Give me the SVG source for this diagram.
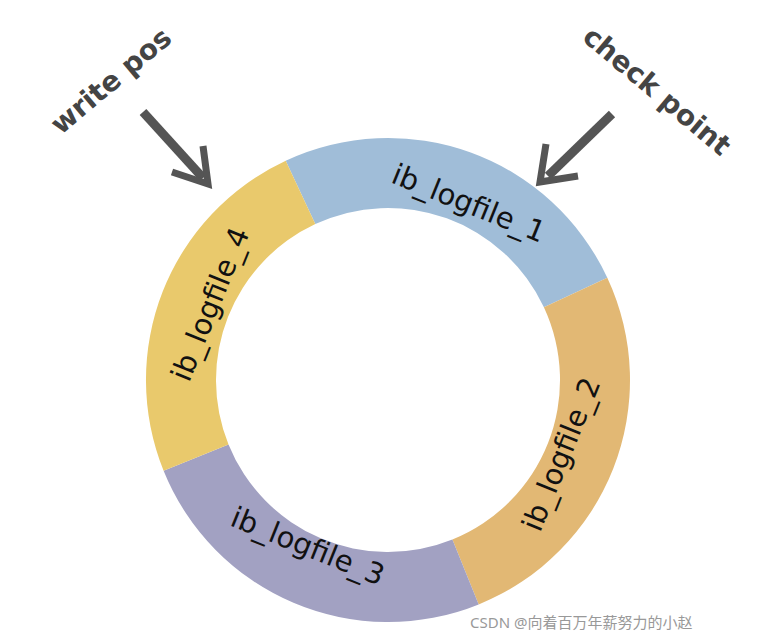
<svg xmlns="http://www.w3.org/2000/svg" width="777" height="640" viewBox="0 0 777 640">
<style>
.seg{stroke:none}
.lbl{font-family:"DejaVu Sans",sans-serif;font-size:29px;fill:#111;text-anchor:middle;dominant-baseline:middle}
.tag{font-family:"DejaVu Sans",sans-serif;font-size:28px;font-weight:bold;fill:#444;text-anchor:middle;dominant-baseline:middle}
.arr{stroke:#555;fill:none;stroke-linecap:butt}
</style>
<rect width="777" height="640" fill="#fff"/>
<g id="seg1"><path class="seg" fill="#a0bdd8" d="M285.7,160.7 A242,242 0 0 1 607.3,277.7 L543.9,307.3 A172,172 0 0 0 315.3,224.1 Z"/><text class="lbl" transform="translate(468,205) rotate(22)">ib_logfile_1</text></g>
<g id="seg2"><path class="seg" fill="#e2b874" d="M607.3,277.7 A242,242 0 0 1 478.7,604.4 L452.4,539.5 A172,172 0 0 0 543.9,307.3 Z"/><text class="lbl" transform="translate(563,455) rotate(-68)">ib_logfile_2</text></g>
<g id="seg3"><path class="seg" fill="#a2a1c2" d="M478.7,604.4 A242,242 0 0 1 163.6,470.7 L228.5,444.4 A172,172 0 0 0 452.4,539.5 Z"/><text class="lbl" transform="translate(307,548) rotate(22)">ib_logfile_3</text></g>
<g id="seg4"><path class="seg" fill="#e9c96c" d="M163.6,470.7 A242,242 0 0 1 285.7,160.7 L315.3,224.1 A172,172 0 0 0 228.5,444.4 Z"/><text class="lbl" transform="translate(212,305) rotate(-68)">ib_logfile_4</text></g>
<g id="connectors">
<line class="arr" x1="143" y1="112" x2="203" y2="178" stroke-width="9"/>
<polyline class="arr" stroke-width="7" points="172,172 208,184 203,146"/>
<line class="arr" x1="612" y1="114" x2="548" y2="176" stroke-width="9"/>
<polyline class="arr" stroke-width="7" points="546,144 540,182 578,176"/>
</g>
<g id="write-pos"><text class="tag" transform="translate(112,82) rotate(-40)">write pos</text></g>
<g id="check-point"><text class="tag" transform="translate(656,92) rotate(40)">check point</text></g>
<text x="470" y="628" font-family="'Noto Sans','Noto Sans CJK SC',sans-serif" font-size="15" fill="#999">CSDN @向着百万年薪努力的小赵</text>
</svg>
